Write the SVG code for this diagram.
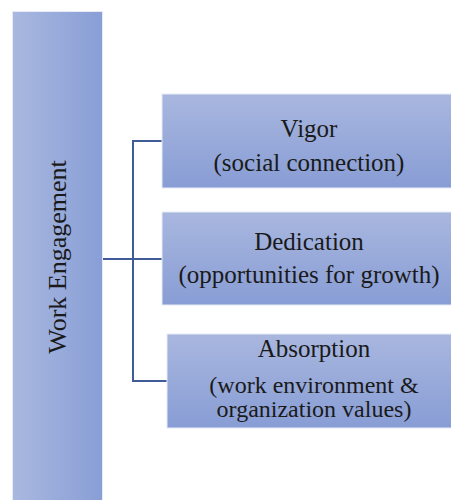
<svg xmlns="http://www.w3.org/2000/svg" width="451" height="500" viewBox="0 0 451 500">
  <defs>
    <linearGradient id="barFill" x1="0" y1="0" x2="1" y2="0">
      <stop offset="0" stop-color="#A9B8DF"/>
      <stop offset="1" stop-color="#889ED6"/>
    </linearGradient>
    <linearGradient id="boxFill" x1="0" y1="0" x2="0" y2="1">
      <stop offset="0" stop-color="#A9B7DF"/>
      <stop offset="1" stop-color="#889DD5"/>
    </linearGradient>
  </defs>
  <style>
    .box { fill: url(#boxFill); stroke: #E6EBF6; stroke-width: 1; }
    .bar { fill: url(#barFill); stroke: #E6EBF6; stroke-width: 1; }
    .link { fill: none; stroke: #3F5C98; stroke-width: 2; }
  </style>

  <rect width="451" height="500" fill="#FFFFFF"/>

  <g id="connectors">
    <path class="link" d="M102 259 H162"/>
    <path class="link" d="M162 141 H133 V381 H167"/>
  </g>

  <g font-family="'Liberation Serif', 'Times New Roman', serif" font-size="25" fill="#1A1A1A" text-anchor="middle">
    <g id="work-engagement">
      <rect class="bar" x="12.5" y="11.5" width="90" height="490"/>
      <text transform="translate(66 257) rotate(-90)" font-size="26">Work Engagement</text>
    </g>

    <g id="vigor">
      <rect class="box" x="162" y="94" width="290" height="94"/>
      <text x="309" y="137">Vigor</text>
      <text x="309" y="171">(social connection)</text>
    </g>

    <g id="dedication">
      <rect class="box" x="162" y="212" width="290" height="93"/>
      <text x="309" y="250">Dedication</text>
      <text x="309" y="283">(opportunities for growth)</text>
    </g>

    <g id="absorption">
      <rect class="box" x="167" y="334" width="285" height="94"/>
      <text x="314" y="357">Absorption</text>
      <text x="314" y="393" font-size="24">(work environment &amp;</text>
      <text x="314" y="417" font-size="24">organization values)</text>
    </g>
  </g>
</svg>
